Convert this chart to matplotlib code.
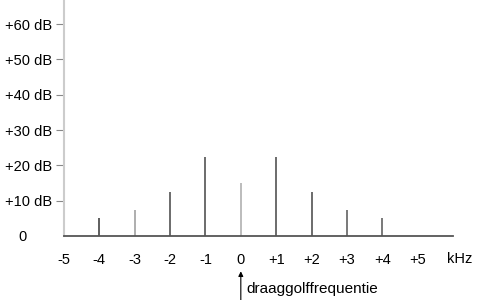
"""Spectrum of a modulated carrier (draaggolf) in dB."""

import matplotlib.pyplot as plt

plt.rcParams["font.family"] = ["Liberation Sans", "DejaVu Sans"]

freq_khz = [-4, -3, -2, -1, 0, 1, 2, 3, 4]
level_db = [5, 7.5, 12.5, 22.5, 15, 22.5, 12.5, 7.5, 5]
bar_colors = ["#333333", "#999999", "#444444", "#444444", "#aaaaaa",
              "#444444", "#444444", "#555555", "#555555"]

x_ticks = [-5, -4, -3, -2, -1, 0, 1, 2, 3, 4, 5]
x_labels = ["-5", "-4", "-3", "-2", "-1", "0", "+1", "+2", "+3", "+4", "+5"]
y_ticks = [10, 20, 30, 40, 50, 60]
y_labels = ["+10 dB", "+20 dB", "+30 dB", "+40 dB", "+50 dB", "+60 dB"]

fig = plt.figure(figsize=(4.78, 3.0), dpi=100)
ax = fig.add_axes([64 / 478, 64 / 300, 389 / 478, 236 / 300])

ax.vlines(freq_khz, 0, level_db, colors=bar_colors, linewidth=1.1)

ax.set_xlim(-5, 6)
ax.set_ylim(0, 66.8)

for side in ["top", "right"]:
    ax.spines[side].set_visible(False)
ax.spines["left"].set_color("#cccccc")
ax.spines["left"].set_linewidth(1.5)
ax.spines["bottom"].set_color("#555555")
ax.spines["bottom"].set_linewidth(1.3)

ax.set_yticks(y_ticks)
ax.set_yticklabels(y_labels, fontsize=10.5)
ax.tick_params(axis="y", length=5.5, width=0.8, color="#888888", pad=3)

ax.set_xticks(x_ticks)
ax.set_xticklabels(x_labels, fontsize=10.5)
ax.tick_params(axis="x", length=0, pad=12)

ax.text(-6.16, -0.4, "0", fontsize=10.5, ha="center", va="center",
        clip_on=False)
ax.text(6.2, -6.4, "kHz", fontsize=10.5, ha="center", va="center",
        clip_on=False)

ax.annotate("", xy=(0, -10.0), xytext=(0, -18.2),
            arrowprops=dict(arrowstyle="-|>", color="black", lw=0.8,
                            mutation_scale=7, shrinkA=0, shrinkB=0),
            annotation_clip=False)
ax.text(0.17, -14.9, "draaggolffrequentie", fontsize=11, ha="left",
        va="center", clip_on=False)

fig.savefig("out.png", dpi=100)
